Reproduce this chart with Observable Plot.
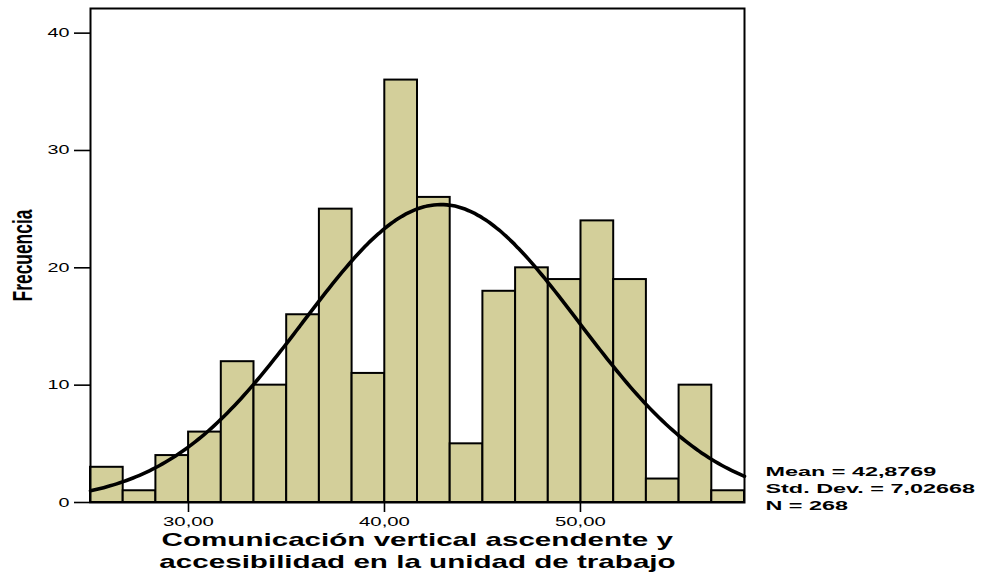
<!DOCTYPE html>
<html>
<head>
<meta charset="utf-8">
<script src="https://cdn.jsdelivr.net/npm/d3@7"></script>
<script src="https://cdn.jsdelivr.net/npm/@observablehq/plot@0.6"></script>
<style>
  html, body { margin: 0; padding: 0; background: #fff; }
  #chart svg { display: block; }
</style>
</head>
<body>
<div id="chart"></div>
<script>
// ---- data ----
const counts = [3, 1, 4, 6, 12, 10, 16, 25, 11, 36, 26, 5, 18, 20, 19, 24, 19, 2, 10, 1];
const binStart = 25.0;
const binWidth = 1.6685;
const xTicks = [30, 40, 50];
const yTicks = [0, 10, 20, 30, 40];
const meanValue = 42.8769;
const sdValue = 7.02668;
const nValue = 268;
const legendLines = ["Mean = 42,8769", "Std. Dev. = 7,02668", "N = 268"];
const xTitleLines = ["Comunicación vertical ascendente y", "accesibilidad en la unidad de trabajo"];
const yTitle = "Frecuencia";

// ---- derived tables ----
const binEnd = binStart + binWidth * counts.length;
const bins = counts.map((c, i) => ({x1: binStart + i * binWidth, x2: binStart + (i + 1) * binWidth, count: c}));
// fitted normal curve (from the stated mean, sd and N)
const curve = d3.range(0, 201).map(k => {
  const x = binStart + (binEnd - binStart) * k / 200;
  const z = (x - meanValue) / sdValue;
  return {x, y: nValue * binWidth * Math.exp(-0.5 * z * z) / (sdValue * Math.sqrt(2 * Math.PI))};
});
const fmtX = d => d.toFixed(2).replace(".", ",");

const FONT = "'Liberation Sans', Arial, Helvetica, sans-serif";

const plot = Plot.plot({
  width: 986,
  height: 573,
  marginLeft: 90,
  marginRight: 242,
  marginTop: 8,
  marginBottom: 71,
  style: {fontFamily: FONT, fontSize: "12.5px", color: "black", background: "white"},
  x: {domain: [binStart, binEnd], ticks: xTicks, tickFormat: fmtX, tickSize: 10, tickPadding: 5, label: null},
  y: {domain: [0, 42.1], ticks: yTicks, tickSize: 16, tickPadding: 5, label: null},
  marks: [
    Plot.rectY(bins, {x1: "x1", x2: "x2", y: "count", fill: "#d3cf9a", stroke: "black", strokeWidth: 2}),
    Plot.line(curve, {x: "x", y: "y", stroke: "black", strokeWidth: 3.6, curve: "natural"}),
    Plot.frame({stroke: "black", strokeWidth: 2}),
    Plot.text([xTitleLines[0]], {frameAnchor: "bottom", lineAnchor: "bottom", text: d => d, dy: 43, fontSize: 18.5, fontWeight: "bold", fill: "black"}),
    Plot.text([xTitleLines[1]], {frameAnchor: "bottom", lineAnchor: "bottom", text: d => d, dy: 65, fontSize: 18.5, fontWeight: "bold", fill: "black"}),
    Plot.text([yTitle], {frameAnchor: "left", textAnchor: "middle", lineAnchor: "middle", text: d => d, rotate: -90, dx: -68, fontSize: 17.4, fontWeight: "bold", fill: "black"}),
    ...legendLines.map((t, i) => Plot.text([t], {frameAnchor: "bottom-right", lineAnchor: "bottom", text: d => d, textAnchor: "start", dx: 21, dy: -26.3 + i * 17, fontSize: 13, fontWeight: "bold", fill: "black"}))
  ]
});

document.getElementById("chart").appendChild(plot);

// horizontal stretch of texts (the original output is widened)
const svg = plot.tagName.toLowerCase() === "svg" ? plot : plot.querySelector("svg");
const NS = "http://www.w3.org/2000/svg";
function stretchEl(t, s) {
  const r = t.getBoundingClientRect();
  const anchor = getComputedStyle(t).textAnchor || "start";
  const rotated = /rotate/.test(t.getAttribute("transform") || "");
  let ax;
  if (rotated || anchor === "middle") ax = (r.left + r.right) / 2;
  else if (anchor === "end") ax = r.right;
  else ax = r.left;
  const parent = t.parentNode;
  const m = parent.getScreenCTM().inverse();
  const p = svg.createSVGPoint();
  p.x = ax; p.y = (r.top + r.bottom) / 2;
  const lp = p.matrixTransform(m);
  const g = document.createElementNS(NS, "g");
  g.setAttribute("transform", `translate(${lp.x},0) scale(${s},1) translate(${-lp.x},0)`);
  parent.insertBefore(g, t);
  g.appendChild(t);
}
const yLabs = new Set(yTicks.map(String));
const xLabs = new Set(xTicks.map(fmtX));
const titleSet = new Set(xTitleLines);
const legendSet = new Set(legendLines);
Array.from(svg.querySelectorAll("text")).forEach(t => {
  const s = t.textContent.trim();
  if (yLabs.has(s)) stretchEl(t, 1.58);
  else if (xLabs.has(s)) stretchEl(t, 1.63);
  else if (titleSet.has(s)) stretchEl(t, 1.6);
  else if (s === yTitle) stretchEl(t, 1.6);
  else if (legendSet.has(s)) stretchEl(t, 1.8);
});
svg.querySelectorAll('g[aria-label^="x-axis"] line, g[aria-label^="y-axis"] line, g[aria-label^="x-axis"] path, g[aria-label^="y-axis"] path').forEach(l => {
  l.setAttribute("stroke-width", "1.6");
  l.setAttribute("stroke", "black");
});
</script>
</body>
</html>
